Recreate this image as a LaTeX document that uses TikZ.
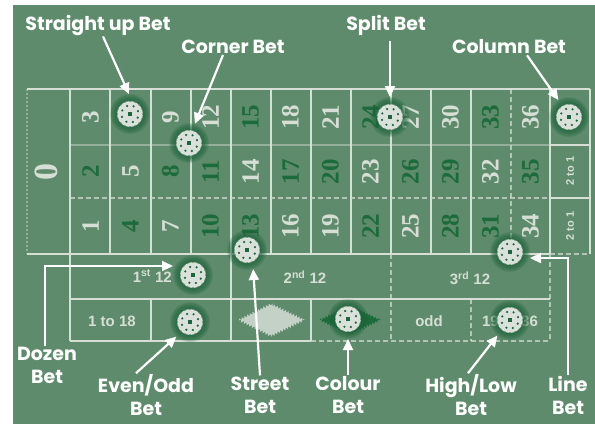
\documentclass[tikz,border=0pt]{standalone}
\usepackage{fontspec}
\setmainfont{Poppins}
\newfontfamily\numfont{Liberation Serif}
\newfontfamily\smfont{Liberation Sans}
\usetikzlibrary{arrows.meta,decorations.pathmorphing}
\definecolor{felt}{RGB}{94,139,107}
\definecolor{chalk}{RGB}{214,222,214}
\definecolor{darknum}{RGB}{28,107,58}
\definecolor{glowc}{RGB}{30,100,60}
\definecolor{chipc}{RGB}{218,224,218}
\tikzset{
  gridline/.style={draw=chalk, line width=1.6pt},
  faintline/.style={draw=chalk, line width=1.3pt, opacity=0.45},
  dashedline/.style={draw=chalk, line width=1.4pt, dash pattern=on 5pt off 3pt, opacity=0.7},
  num/.style={font=\numfont\bfseries\fontsize{25}{25}\selectfont, rotate=90, inner sep=0pt},
  smtxt/.style={text=chalk, font=\smfont\bfseries\fontsize{15}{15}\selectfont, inner sep=0pt},
  lbl/.style={text=white, font=\bfseries\fontsize{19}{23}\selectfont, align=center, inner sep=1pt},
  arr/.style={draw=white, line width=2.2pt, -{Triangle[length=11pt,width=10pt]}},
  glowring/.style={fill=glowc, opacity=0.17},
  chip/.style={circle, fill=chipc, minimum size=26pt, inner sep=0pt, outer sep=7pt,
    path picture={
      \foreach \a in {0,22.5,...,337.5}
        \fill[felt] (path picture bounding box.center) ++(\a:13.5pt) circle (1.6pt);
      \foreach \a in {20,65,...,335}
        \fill[glowc] (path picture bounding box.center) ++(\a:8.5pt) circle (1.2pt);
      \fill[glowc] ([shift={(-2pt,-2pt)}]path picture bounding box.center) rectangle ++(4pt,4pt);
    }},
  diamondedge/.style={decorate, decoration={zigzag, segment length=3pt, amplitude=1.3pt}}
}
\begin{document}
\begin{tikzpicture}[x=1pt,y=-1pt]
\useasboundingbox (0,0) rectangle (595,424);
\fill[white] (0,0) rectangle (595,424);
\fill[felt] (13,5) rectangle (595,424);

% ---- grid ----
\draw[gridline] (27,89) -- (590,89);
\draw[gridline] (590,89) -- (590,254);
\draw[faintline, dash pattern=on 2pt off 2pt] (27,89) -- (27,254);
\draw[gridline] (27,254) -- (550,254);
\draw[dashedline] (550,254) -- (590,254);
\foreach \x in {70,110,151,191,231,271,311,351,391,431,471,550}
  \draw[gridline] (\x,89) -- (\x,254);
\draw[dashedline] (511,89) -- (511,254);
\draw[faintline] (70,145) -- (550,145);
\draw[gridline] (550,145) -- (590,145);
\draw[dashedline] (70,198) -- (550,198);
\draw[gridline] (550,198) -- (590,198);
\draw[gridline] (70,254) -- (70,341);
\draw[gridline] (70,299) -- (550,299);
\draw[gridline] (70,341) -- (311,341);
\draw[dashedline] (311,341) -- (550,341);
\draw[gridline] (231,254) -- (231,341);
\draw[dashedline] (391,254) -- (391,341);
\draw[gridline] (151,299) -- (151,341);
\draw[gridline] (311,299) -- (311,341);
\draw[dashedline] (471,299) -- (471,341);
\draw[dashedline] (550,254) -- (550,341);

% ---- numbers ----
\node[text=chalk, font=\numfont\bfseries\fontsize{34}{34}\selectfont, rotate=90, inner sep=0pt] (zero) at (46,172) {0};
\foreach \n/\c in {1/chalk,2/darknum,3/chalk,4/darknum,5/chalk,6/darknum,7/chalk,8/darknum,9/chalk,
  10/darknum,11/darknum,12/chalk,13/darknum,14/chalk,15/darknum,16/chalk,17/darknum,18/chalk,
  19/chalk,20/darknum,21/chalk,22/darknum,23/chalk,24/darknum,25/chalk,26/darknum,27/chalk,
  28/darknum,29/darknum,30/chalk,31/darknum,32/chalk,33/darknum,34/chalk,35/darknum,36/chalk}{
  \pgfmathtruncatemacro\col{(\n-1)/3}
  \pgfmathtruncatemacro\r{mod(\n-1,3)}
  \pgfmathsetmacro\cx{90.5+40*\col}
  \pgfmathsetmacro\cy{226-54.5*\r}
  \node[num, text=\c] (n\n) at (\cx,\cy) {\n};
}
\node[smtxt, rotate=90, font=\smfont\bfseries\fontsize{11}{11}\selectfont] (cb2) at (570,171) {2 to 1};
\node[smtxt, rotate=90, font=\smfont\bfseries\fontsize{11}{11}\selectfont] (cb1) at (570,226) {2 to 1};

% ---- outside bets ----
\node[smtxt, anchor=east] (d1) at (172,276) {1\textsuperscript{st} 12};
\node[smtxt] (d2) at (305,277) {2\textsuperscript{nd} 12};
\node[smtxt] (d3) at (470,278) {3\textsuperscript{rd} 12};
\node[smtxt] (low) at (112,321) {1 to 18};
\node[smtxt] (odd) at (429,321) {odd};
\node[smtxt] (high) at (510,321) {19 to 36};
\fill[chalk, opacity=0.85, diamondedge] (239,320) -- (271,304) -- (304,320) -- (271,336) -- cycle;
\fill[darknum, diamondedge] (320,320) -- (350,306) -- (380,320) -- (350,334) -- cycle;

% ---- chips ----
\foreach \p in {(130,114),(189,143),(390,117),(569,117),(247,250),(510,252),(193,275),(190,322),(348,319),(510,320)}{
  \foreach \rr in {14,15,...,20}
    \fill[glowring] \p circle (\rr pt);
}
\node[chip] (chSU) at (130,114) {};
\node[chip] (chCO) at (189,143) {};
\node[chip] (chSP) at (390,117) {};
\node[chip] (chCL) at (569,117) {};
\node[chip] (chST) at (247,250) {};
\node[chip] (chLN) at (510,252) {};
\node[chip] (chDZ) at (193,275) {};
\node[chip] (chEO) at (190,322) {};
\node[chip] (chCOL) at (348,319) {};
\node[chip] (chHL) at (510,320) {};

% ---- labels ----
\node[lbl] (su) at (98,25) {Straight up Bet};
\node[lbl] (co) at (233,47) {Corner Bet};
\node[lbl] (sp) at (386,25) {Split Bet};
\node[lbl] (cl) at (509,47) {Column Bet};
\node[lbl] (dz) at (47,365) {Dozen\\Bet};
\node[lbl] (eo) at (146,395) {Even/Odd\\Bet};
\node[lbl] (st) at (260,395) {Street\\Bet};
\node[lbl] (col) at (348,395) {Colour\\Bet};
\node[lbl] (hl) at (471,395) {High/Low\\Bet};
\node[lbl] (ln) at (568,395) {Line\\Bet};

% ---- arrows ----
\draw[arr] ([xshift=5pt]su.south) -- (chSU.93);
\draw[arr] ([xshift=-10pt]co.south) -- (chCO.73);
\draw[arr] ([xshift=4pt,yshift=-5pt]sp.south) -- (chSP.90);
\draw[arr] ([xshift=18pt]cl.south) -- (chCL.122);
\draw[arr] ([xshift=-2pt]dz.north) |- ([yshift=9pt]chDZ.west);
\draw[arr] ([xshift=-10pt]eo.north) -- (chEO.227);
\draw[arr] (st.north) -- (chST.288);
\draw[arr] (col.north) -- (chCOL.270);
\draw[arr] ([xshift=-3pt]hl.north) -- (chHL.231);
\draw[arr] (ln.north) |- ([yshift=-6pt]chLN.east);
\end{tikzpicture}
\end{document}
